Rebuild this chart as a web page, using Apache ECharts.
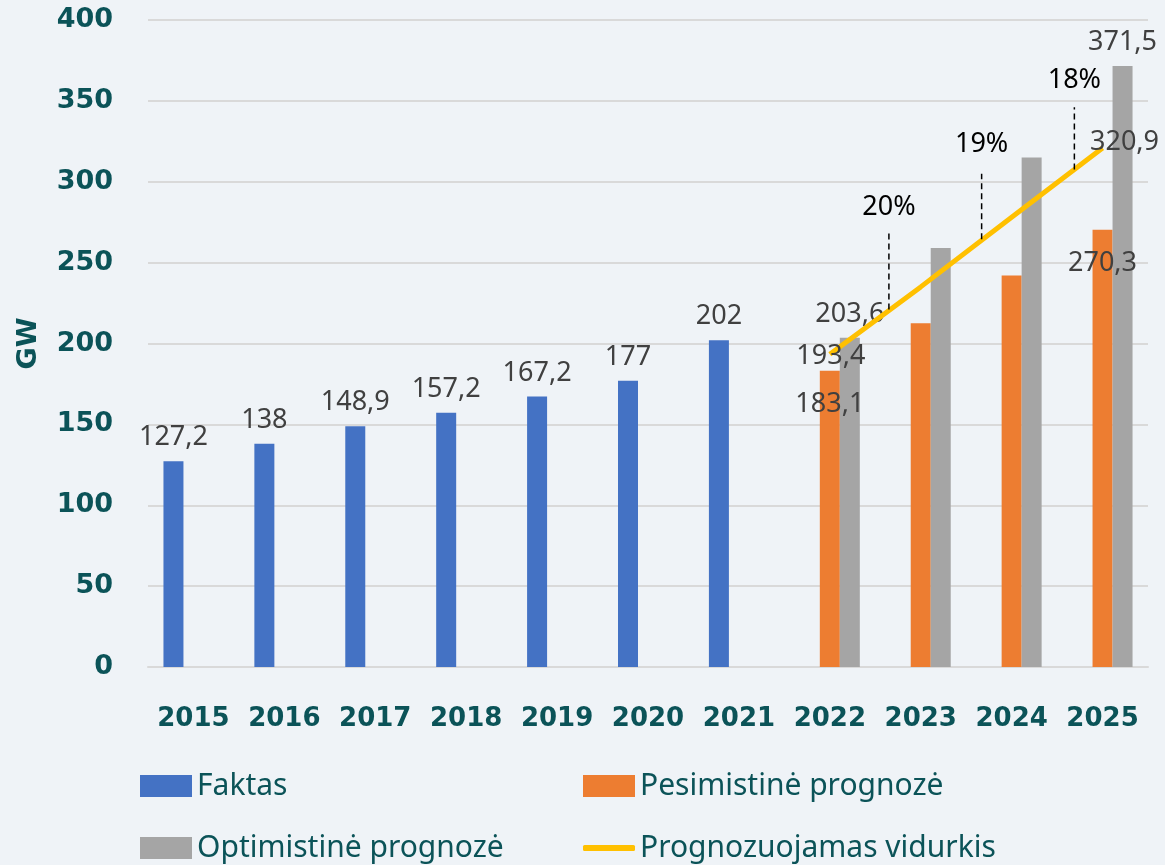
<!DOCTYPE html>
<html lang="lt">
<head>
    <meta charset="UTF-8">
    <title>GW prognozė</title>
    <script src="https://cdn.jsdelivr.net/npm/echarts@6/dist/echarts.min.js"></script>
    <style>
        html, body { margin: 0; padding: 0; background: #eff3f7; }
        #main { width: 1165px; height: 865px; }
    </style>
</head>
<body>
<div id="main"></div>
<script>
    // duomenys
    const years = ['2015', '2016', '2017', '2018', '2019', '2020', '2021', '2022', '2023', '2024', '2025'];
    const faktas = [127.2, 138, 148.9, 157.2, 167.2, 177, 202, null, null, null, null];
    const pesimistine = [null, null, null, null, null, null, null, 183.1, 212.5, 242, 270.3];
    const optimistine = [null, null, null, null, null, null, null, 203.6, 259, 315, 371.5];
    const vidurkis = [null, null, null, null, null, null, null, 193.4, 235, 278, 320.9];
    const yTicks = [0, 50, 100, 150, 200, 250, 300, 350, 400];

    // augimo procentai tarp metų (kategorijos indeksas + dalis, y apačia/viršus, teksto y)
    const augimasTekstas = ['20%', '19%', '18%'];
    const augimasIndeksas = [7, 8, 9];
    const augimasDalis = [0.65, 0.67, 0.69];
    const augimasApacia = [221, 264.5, 307.5];
    const augimasVirsus = [268, 305, 346];
    const augimasTekstoY = [284, 323, 363];

    // kurios reikšmės turi etiketes
    const rodytiEtiketes = [7, 10];

    const teal = '#0b5358';
    const labelGray = '#404040';
    const labelFont = 'Noto Sans';
    const geltona = '#ffc000';

    const chart = echarts.init(document.getElementById('main'));

    function withLabels(arr, labelCfg) {
        return arr.map((v, i) => {
            if (v === null) return null;
            if (labelCfg && rodytiEtiketes.includes(i)) {
                return { value: v, label: Object.assign({ show: true }, labelCfg(i)) };
            }
            return v;
        });
    }

    const fmt = p => String(p.value).replace('.', ',');

    // po vieną legendos elementą, kad būtų dvi kolonos
    function legendItem(name, left, top, extra) {
        return Object.assign({
            left: left, top: top, padding: 0,
            itemWidth: 52, itemHeight: 22, itemGap: 0,
            textStyle: { color: teal, fontSize: 30, fontFamily: labelFont },
            data: [{ name: name, icon: 'rect' }]
        }, extra || {});
    }

    const option = {
        backgroundColor: '#eff3f7',
        animation: false,
        grid: { left: 148, right: 17, top: 20, bottom: 198 },
        legend: [
            legendItem('Faktas', 140, 771),
            legendItem('Pesimistinė prognozė', 583, 771),
            legendItem('Optimistinė prognozė', 140, 833),
            legendItem('Prognozuojamas vidurkis', 583, 833, {
                itemHeight: 6,
                data: [{
                    name: 'Prognozuojamas vidurkis', icon: 'roundRect',
                    itemStyle: { color: geltona, opacity: 1 }
                }]
            })
        ],
        xAxis: {
            type: 'category',
            data: years,
            axisTick: { show: false },
            axisLine: { lineStyle: { color: '#d9d9d9', width: 2 } },
            axisLabel: {
                interval: 0,
                color: teal, fontSize: 26, fontWeight: 'bold',
                fontFamily: 'DejaVu Sans', margin: 39
            }
        },
        yAxis: {
            type: 'value',
            min: yTicks[0],
            max: yTicks[yTicks.length - 1],
            interval: 50,
            name: 'GW',
            nameLocation: 'middle',
            nameGap: 106,
            nameTextStyle: { color: teal, fontSize: 27, fontWeight: 'bold', fontFamily: 'DejaVu Sans' },
            axisLine: { show: false },
            axisTick: { show: false },
            splitLine: { lineStyle: { color: '#d9d9d9', width: 2 } },
            axisLabel: {
                color: teal, fontSize: 27, fontWeight: 'bold',
                fontFamily: 'DejaVu Sans', margin: 35
            }
        },
        series: [
            {
                name: 'Faktas',
                type: 'bar',
                barWidth: 20,
                barGap: '0%',
                itemStyle: { color: '#4472c4' },
                label: {
                    show: true, position: 'top', distance: 10,
                    color: labelGray, fontSize: 27, fontFamily: labelFont,
                    formatter: fmt
                },
                data: faktas
            },
            {
                name: 'Pesimistinė prognozė',
                type: 'bar',
                barWidth: 20,
                barGap: '0%',
                itemStyle: { color: '#ed7d31' },
                data: withLabels(pesimistine, () => ({
                    position: 'insideTop', distance: 20,
                    color: labelGray, fontSize: 27, fontFamily: labelFont,
                    formatter: fmt
                }))
            },
            {
                name: 'Optimistinė prognozė',
                type: 'bar',
                barWidth: 20,
                barGap: '0%',
                itemStyle: { color: '#a5a5a5' },
                data: withLabels(optimistine, () => ({
                    position: 'top', distance: 10,
                    color: labelGray, fontSize: 27, fontFamily: labelFont,
                    formatter: fmt
                }))
            },
            {
                name: 'Prognozuojamas vidurkis',
                type: 'line',
                symbol: 'circle',
                symbolSize: 0,
                showSymbol: true,
                z: 5,
                lineStyle: { color: geltona, width: 5 },
                itemStyle: { color: geltona },
                data: withLabels(vidurkis, i => ({
                    position: 'inside',
                    offset: i === 10 ? [22, -6] : [1, 2],
                    color: labelGray, fontSize: 27, fontFamily: labelFont,
                    formatter: fmt
                }))
            },
            {
                name: 'augimas',
                type: 'custom',
                silent: true,
                z: 6,
                data: augimasTekstas.map((t, i) => [augimasIndeksas[i], augimasVirsus[i]]),
                renderItem: function (params, api) {
                    const i = params.dataIndex;
                    const base = augimasIndeksas[i];
                    const f = augimasDalis[i];
                    const p0 = api.coord([base, augimasApacia[i]]);
                    const p1 = api.coord([base + 1, augimasApacia[i]]);
                    const x = p0[0] + (p1[0] - p0[0]) * f;
                    const yBottom = p0[1];
                    const yTop = api.coord([base, augimasVirsus[i]])[1];
                    const yText = api.coord([base, augimasTekstoY[i]])[1];
                    return {
                        type: 'group',
                        children: [
                            {
                                type: 'line',
                                shape: { x1: x, y1: yBottom, x2: x, y2: yTop },
                                style: { stroke: '#000', lineWidth: 1.5, lineDash: [6, 4] }
                            },
                            {
                                type: 'text',
                                x: x,
                                y: yText,
                                style: {
                                    text: augimasTekstas[i],
                                    fill: '#000',
                                    font: '27px "Noto Sans"',
                                    align: 'center',
                                    verticalAlign: 'middle'
                                }
                            }
                        ]
                    };
                }
            }
        ]
    };

    chart.setOption(option);
</script>
</body>
</html>
